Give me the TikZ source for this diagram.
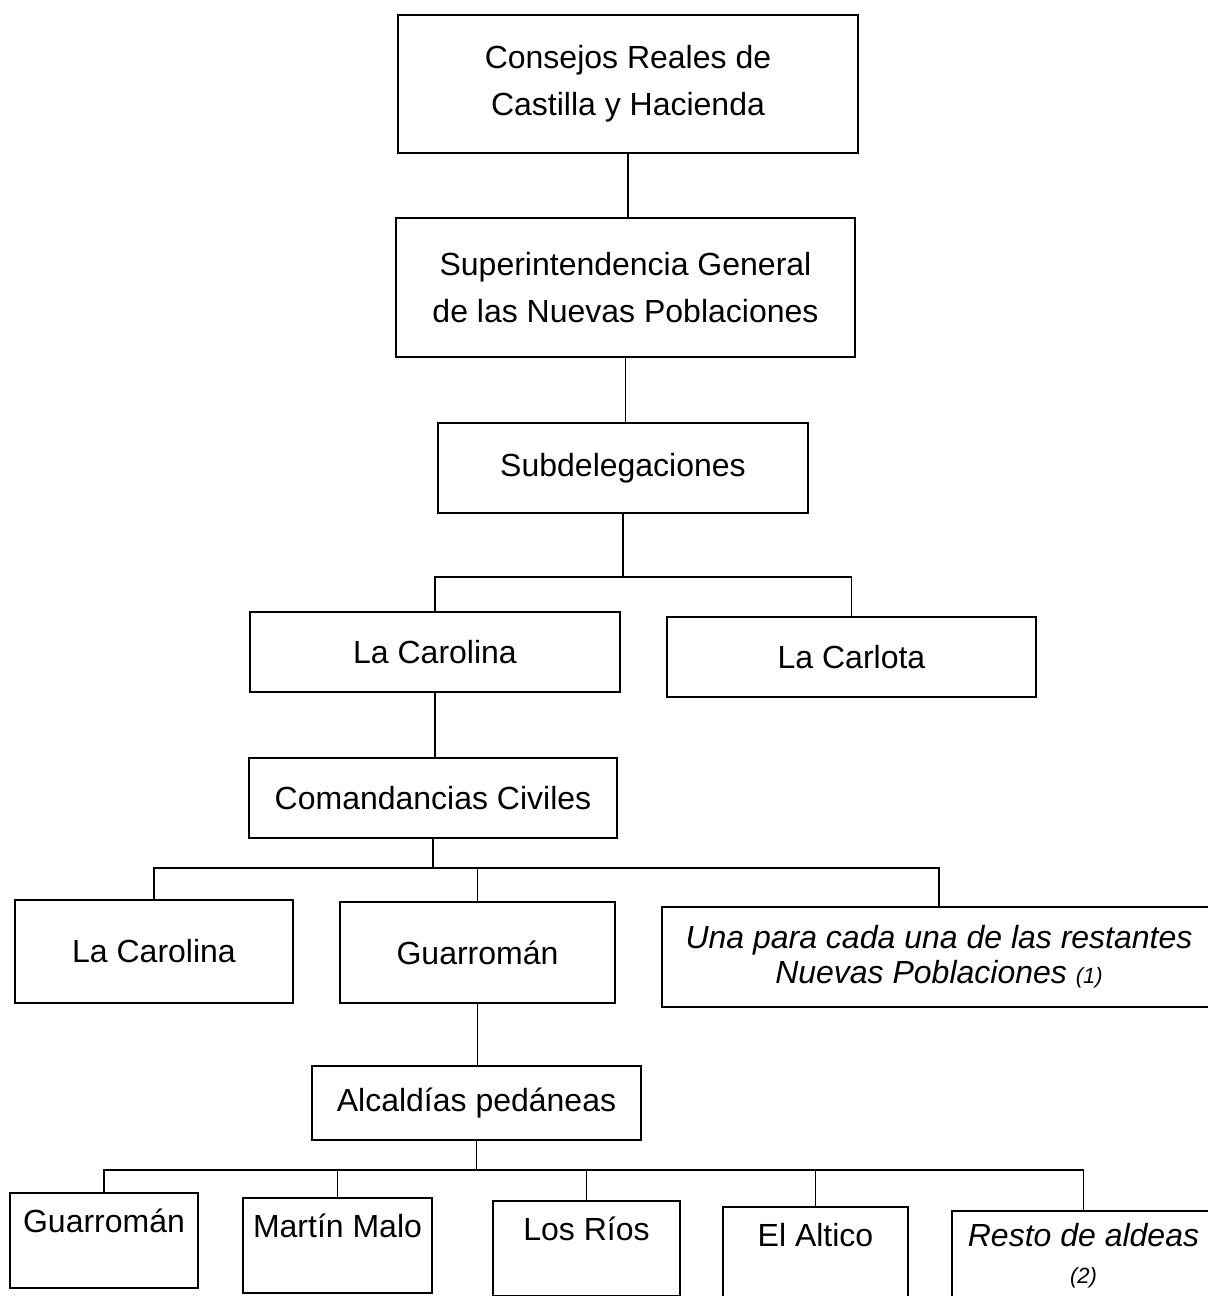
\documentclass[tikz,border=0pt]{standalone}
\usepackage{fontspec}
\setmainfont{Liberation Sans}

\begin{document}
\begin{tikzpicture}[x=0.5pt,y=-0.5pt,
  caja/.style={draw,line width=1pt,align=center,inner sep=0pt,font=\fontsize{16}{23.5}\selectfont},
  fila/.style={caja,anchor=north,minimum width=#1,text height=19.5pt,text depth=28pt},
  linea/.style={line width=0.7pt}]
\useasboundingbox (0,0) rectangle (1208,1296);
\node[caja,minimum width=230pt,minimum height=69pt] (consejos) at (628,84) {Consejos Reales de\\Castilla y Hacienda};
\node[caja,minimum width=229.5pt,minimum height=69.5pt] (super) at (625.5,287.5) {Superintendencia General\\de las Nuevas Poblaciones};
\node[caja,minimum width=185pt,minimum height=45pt] (subdel) at (623,468) {Subdelegaciones};
\node[caja,minimum width=185pt,minimum height=40pt] (carolina) at (435,652) {La Carolina};
\node[caja,minimum width=184.5pt,minimum height=40pt] (carlota) at (851.5,657) {La Carlota};
\node[caja,minimum width=184pt,minimum height=40pt] (comand) at (433,798) {Comandancias Civiles};
\node[caja,minimum width=139pt,minimum height=51.5pt] (carolinab) at (154,951.5) {La Carolina};
\node[caja,minimum width=137.5pt,minimum height=50.5pt] (guarroman) at (477.5,952.5) {Guarrom\'an};
\node[caja,minimum width=277pt,minimum height=50pt,font=\fontsize{16}{17.5}\selectfont\itshape] (una) at (939,957) {Una para cada una de las restantes\\Nuevas Poblaciones {\fontsize{11}{13}\selectfont(1)}};
\node[caja,minimum width=164.5pt,minimum height=37pt] (alcaldias) at (476.5,1103) {Alcald\'ias ped\'aneas};
% aldeas
\node[fila=94pt] (guarromanb) at (104,1192) {Guarrom\'an};
\node[fila=94.5pt] (martin) at (337.5,1197) {Mart\'in Malo};
\node[fila=93.5pt] (rios) at (586.5,1200) {Los R\'ios};
\node[fila=92.5pt] (altico) at (815.5,1206) {El Altico};
\node[caja,anchor=north,minimum width=131.5pt,inner ysep=6pt,font=\fontsize{16}{18.5}\selectfont\itshape] (resto) at (1083.5,1210) {Resto de aldeas\\{\fontsize{11}{13}\selectfont(2)}\\[6pt]};
% conectores
\draw[linea] (consejos.south) -- (consejos.south |- super.north);
\draw[linea] (super.south) -- (super.south |- subdel.north);
\coordinate (r1) at (623,577);
\draw[linea] (subdel.south) -- (r1);
\draw[linea] (carolina.north) |- (r1) -| (carlota.north);
\draw[linea] (carolina.south) -- (carolina.south |- comand.north);
\coordinate (r2) at (433,868);
\draw[linea] (comand.south) -- (r2);
\draw[linea] (carolinab.north) |- (r2) -| (una.north);
\draw[linea] (guarroman.north) -- (guarroman.north |- r2);
\draw[linea] (guarroman.south) -- (guarroman.south |- alcaldias.north);
\coordinate (r3) at (476.5,1170);
\draw[linea] (alcaldias.south) -- (r3);
\draw[linea] (guarromanb.north) |- (r3) -| (resto.north);
\foreach \n in {martin,rios,altico}
  \draw[linea] (\n.north) -- (\n.north |- r3);
\end{tikzpicture}
\end{document}
